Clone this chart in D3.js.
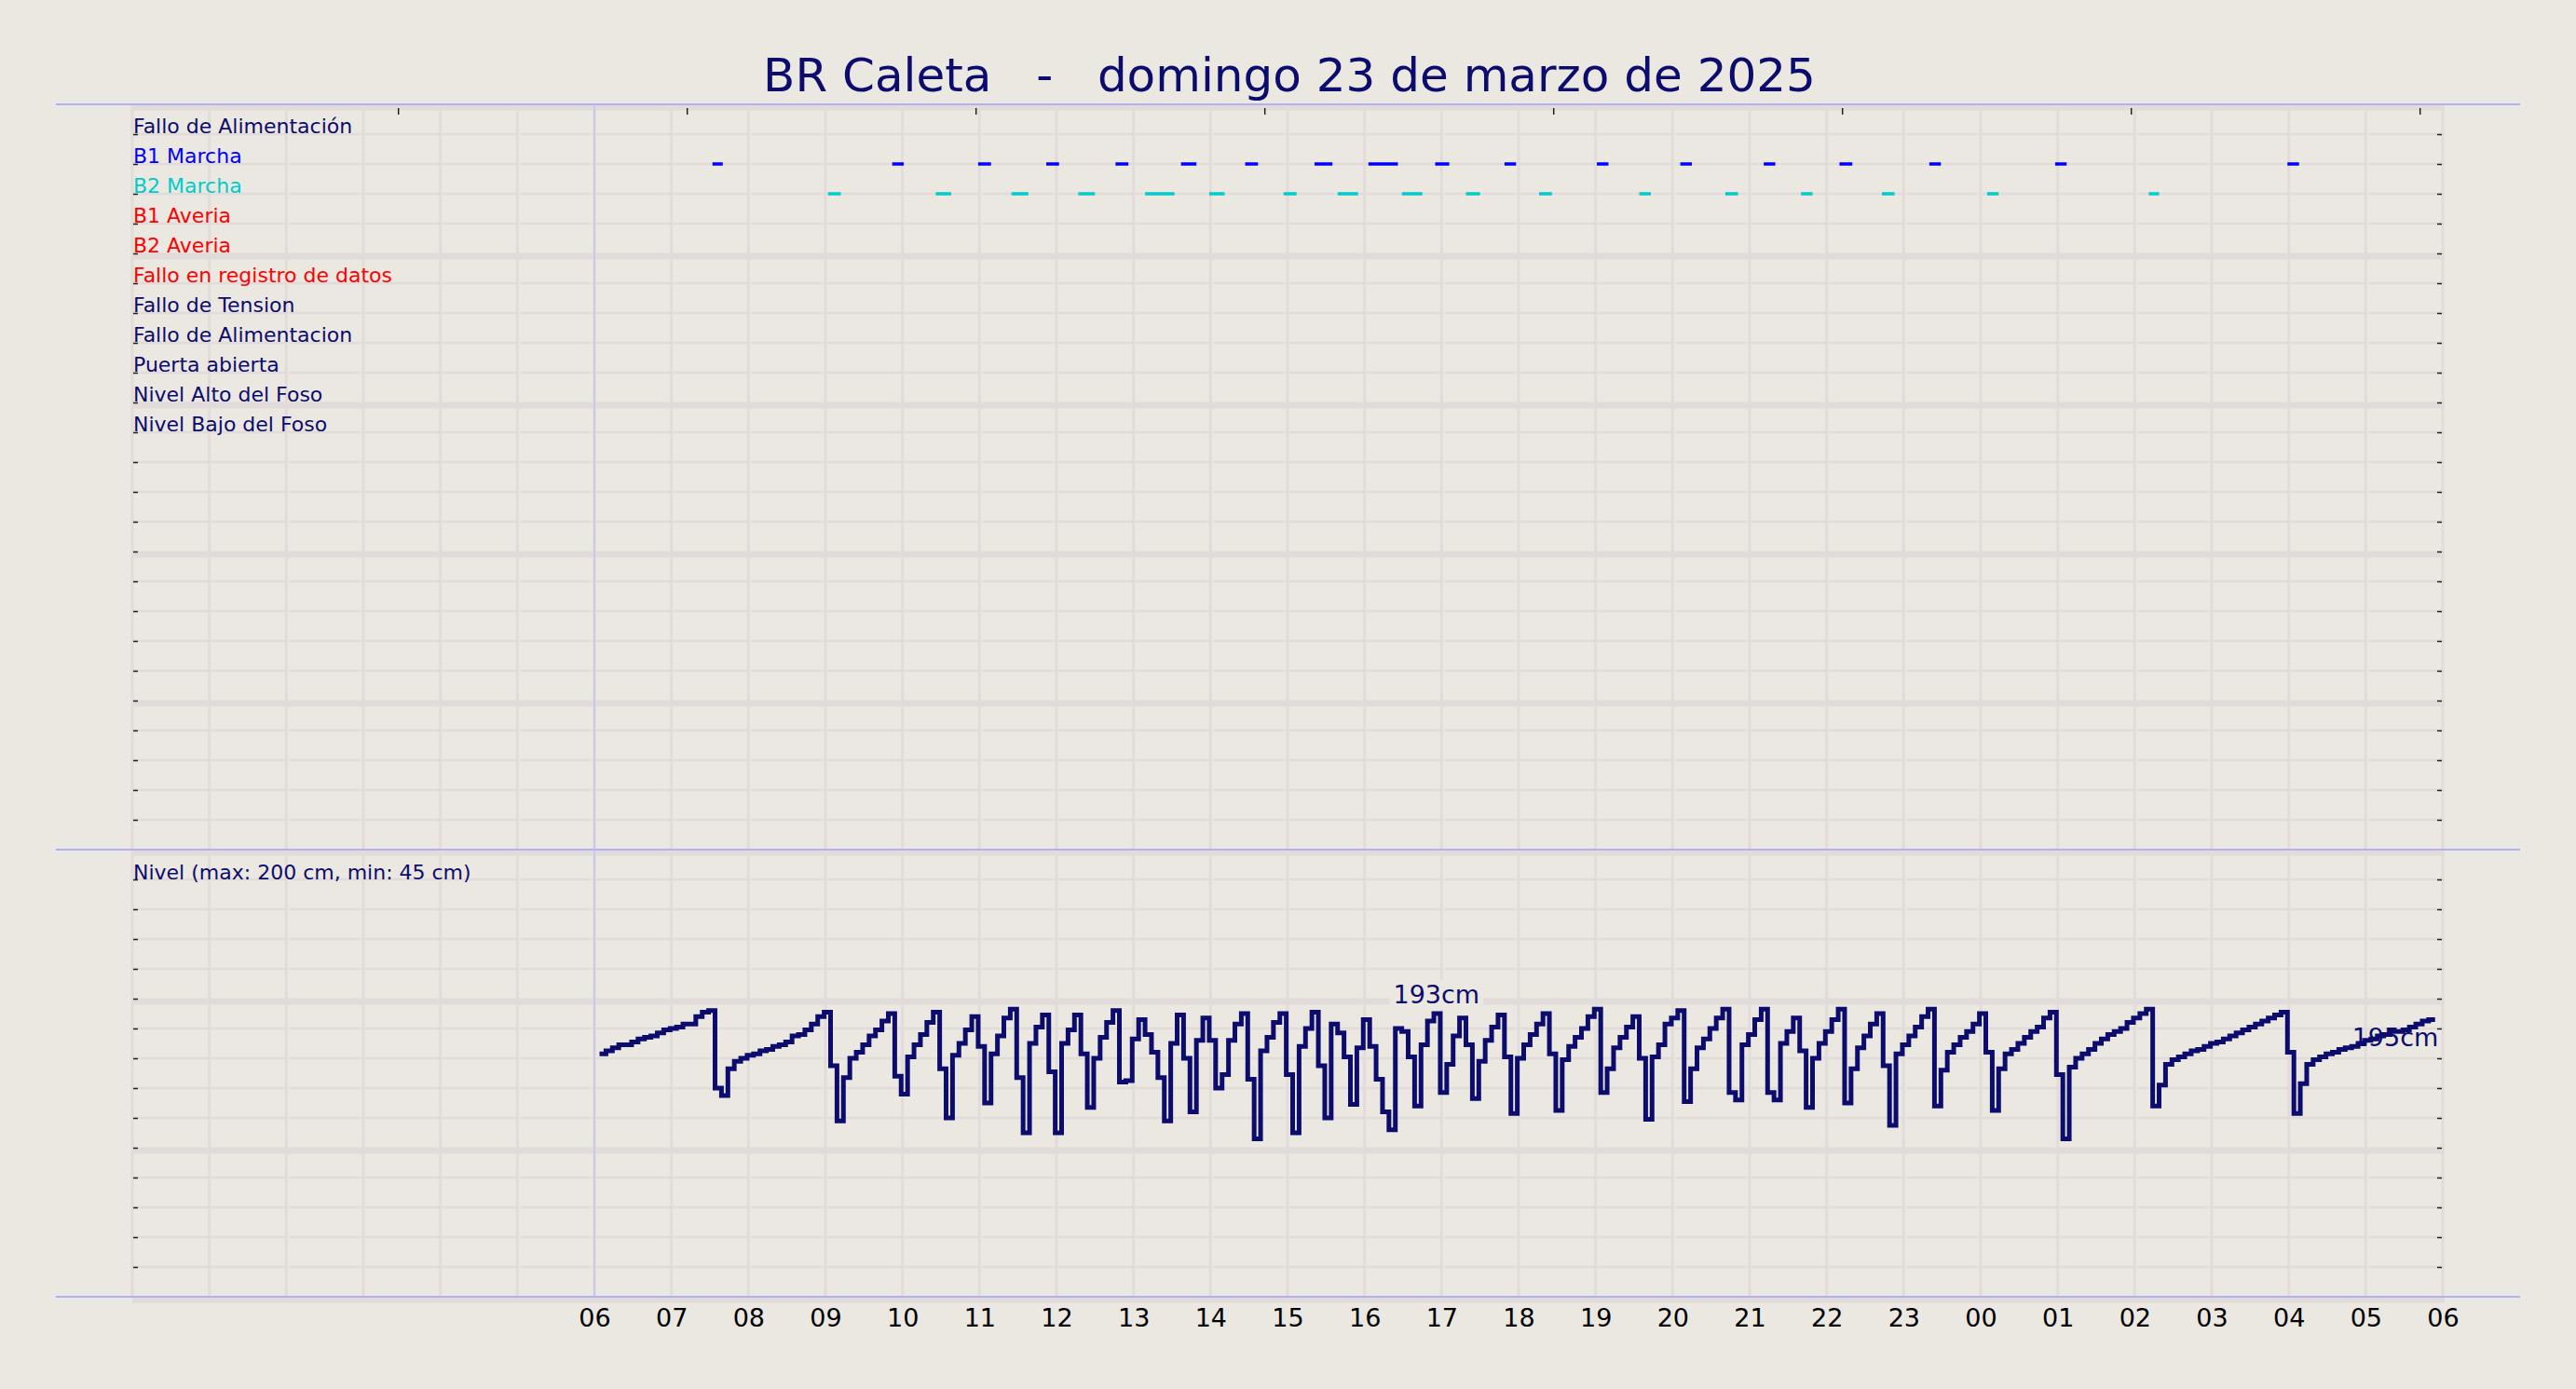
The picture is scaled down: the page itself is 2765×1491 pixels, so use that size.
<!DOCTYPE html>
<html>
<head>
<meta charset="utf-8">
<script src="https://cdn.jsdelivr.net/npm/d3@7"></script>
<style>
  body { margin: 0; background: #ebe7e1; }
  svg { display: block; font-family: "DejaVu Sans", sans-serif; }
</style>
</head>
<body>
<div id="chart"></div>
<script>

var title = "BR Caleta   -   domingo 23 de marzo de 2025";

var signalLabels = [
  "Fallo de Alimentación", "B1 Marcha", "B2 Marcha", "B1 Averia", "B2 Averia",
  "Fallo en registro de datos", "Fallo de Tension", "Fallo de Alimentacion",
  "Puerta abierta", "Nivel Alto del Foso", "Nivel Bajo del Foso"
];
var signalColors = [
  "#0c0c6e", "#0000ff", "#00cccc", "#ff0000", "#ff0000",
  "#ff0000", "#0c0c6e", "#0c0c6e", "#0c0c6e", "#0c0c6e", "#0c0c6e"
];

// pump running periods [start, end]
var b1Marcha = [
  ["23 07:32", "23 07:40"], ["23 09:52", "23 10:01"], ["23 10:59", "23 11:09"],
  ["23 11:52", "23 12:02"], ["23 12:46", "23 12:56"], ["23 13:37", "23 13:49"],
  ["23 14:27", "23 14:37"], ["23 15:21", "23 15:35"], ["23 16:03", "23 16:26"],
  ["23 16:55", "23 17:06"], ["23 17:49", "23 17:58"], ["23 19:01", "23 19:10"],
  ["23 20:06", "23 20:15"], ["23 21:11", "23 21:20"], ["23 22:10", "23 22:20"],
  ["23 23:20", "23 23:29"], ["24 00:58", "24 01:07"], ["24 03:59", "24 04:08"]
];
var b2Marcha = [
  ["23 09:02", "23 09:12"], ["23 10:26", "23 10:38"], ["23 11:25", "23 11:38"],
  ["23 12:17", "23 12:30"], ["23 13:09", "23 13:32"], ["23 13:59", "23 14:11"],
  ["23 14:57", "23 15:07"], ["23 15:39", "23 15:55"], ["23 16:29", "23 16:45"],
  ["23 17:19", "23 17:30"], ["23 18:16", "23 18:26"], ["23 19:34", "23 19:43"],
  ["23 20:41", "23 20:51"], ["23 21:40", "23 21:49"], ["23 22:43", "23 22:53"],
  ["24 00:05", "24 00:14"], ["24 02:11", "24 02:19"]
];

// level in cm, one reading every 5 minutes from levelStart
var levelStart = "23 06:04";
var levelStepMin = 5;
var levelCm = [
  163,165,167,169,169,171,173,174,175,177,
  179,180,181,183,183,188,191,192,140,135,
  153,158,160,162,163,165,166,168,169,171,
  175,176,179,183,188,191,155,118,147,160,
  164,169,175,179,185,190,148,136,161,169,
  176,184,191,153,120,162,170,179,188,168,
  130,163,175,187,193,147,110,170,181,189,
  151,110,170,179,189,163,127,160,174,184,
  192,144,145,173,186,176,164,147,118,170,
  189,160,124,172,187,172,140,149,172,183,
  190,146,106,165,174,184,190,149,110,168,
  180,191,155,120,183,177,161,129,167,186,
  168,146,124,112,180,178,161,128,169,185,
  190,137,156,175,187,169,133,158,172,181,
  189,161,123,160,169,176,183,190,163,125,
  159,168,174,180,188,193,137,153,167,174,
  181,188,160,119,161,169,183,187,192,131,
  153,167,173,180,187,193,137,132,169,176,
  186,193,137,132,170,178,187,165,127,160,
  170,178,186,193,130,153,167,175,183,190,
  155,115,163,169,175,181,188,193,128,152,
  164,169,174,178,183,190,164,125,153,163,
  166,170,174,178,181,187,191,149,106,154,
  160,163,166,170,173,176,178,180,184,187,
  190,193,128,142,156,159,161,163,165,166,
  168,170,171,173,175,177,179,181,183,185,
  187,189,191,164,123,143,156,159,161,163,
  164,166,167,168,170,172,173,175,176,178,
  178,179,181,183,185,186
];

var levelNote = "Nivel (max: 200 cm, min: 45 cm)";
var levelLabels = [
  { time: "23 16:56", cm: 203, text: "193cm", box: true },
  { time: "24 05:23", cm: 174, text: "195cm", box: false }
];

var xStart = "23 00:00", xEnd = "24 06:00";
var hourLabels = ["06","07","08","09","10","11","12","13","14","15","16","17","18",
                  "19","20","21","22","23","00","01","02","03","04","05","06"];
var topTicks = ["23 03:27", "23 07:12", "23 10:57", "23 14:42",
                "23 18:27", "23 22:12", "24 01:57", "24 05:42"];


var width = 2765, height = 1491;
var bg = "#ebe7e1", gridColor = "#e1dcda", navy = "#0c0c6e";
var parseTime = d3.timeParse("%d %H:%M");

var svg = d3.select("#chart").append("svg")
    .attr("width", width)
    .attr("height", height);

svg.append("rect")
    .attr("width", width)
    .attr("height", height)
    .attr("fill", bg);

// scales
var x = d3.scaleTime()
    .domain([parseTime(xStart), parseTime(xEnd)])
    .range([142, 2622]);

var yRow = d3.scaleLinear().domain([0, 25]).range([112, 912]);
var yLevel = d3.scaleLinear().domain([0, 300]).range([1392, 912]);

var x0 = x.range()[0], x1 = x.range()[1];
var yTop = yRow(0), yBottom = yLevel(0);

// grid
var gridHours = d3.timeHour.range(x.domain()[0], d3.timeMinute.offset(x.domain()[1], 1));

svg.append("g").selectAll("line")
    .data(gridHours)
    .join("line")
    .attr("x1", function(d) { return x(d); })
    .attr("x2", function(d) { return x(d); })
    .attr("y1", yTop)
    .attr("y2", yBottom)
    .attr("stroke", gridColor)
    .attr("stroke-width", 3);

var hLines = d3.range(0, 25).map(function(r) { return { y: yRow(r), major: r % 5 === 0 }; })
    .concat(d3.range(0, 301, 20).map(function(c) { return { y: yLevel(c), major: c % 100 === 0 }; }));

svg.append("g").selectAll("line")
    .data(hLines)
    .join("line")
    .attr("x1", x0)
    .attr("x2", x1 + 2)
    .attr("y1", function(d) { return d.y + (d.major ? 3 : 0); })
    .attr("y2", function(d) { return d.y + (d.major ? 3 : 0); })
    .attr("stroke", gridColor)
    .attr("stroke-width", function(d) { return d.major ? 7 : 2.5; });

// frame lines
svg.append("g").selectAll("line")
    .data([yTop, yRow(25), yBottom])
    .join("line")
    .attr("x1", 60)
    .attr("x2", 2705)
    .attr("y1", function(d) { return d; })
    .attr("y2", function(d) { return d; })
    .attr("stroke", "#b0b0f4")
    .attr("stroke-width", 2);

svg.append("line")
    .attr("x1", x(parseTime("23 06:00")))
    .attr("x2", x(parseTime("23 06:00")))
    .attr("y1", yTop)
    .attr("y2", yBottom)
    .attr("stroke", "#c2c2f6")
    .attr("stroke-width", 1.5);

// small ticks
function styleTicks(g) {
  g.select(".domain").remove();
  g.selectAll(".tick line").attr("stroke", "#222").attr("stroke-width", 1.5);
}

svg.append("g").attr("transform", "translate(" + (x0 + 1) + ",0)")
    .call(d3.axisRight(yRow).tickValues(d3.range(1, 25)).tickSize(5).tickFormat(""))
    .call(styleTicks);
svg.append("g").attr("transform", "translate(" + (x0 + 1) + ",0)")
    .call(d3.axisRight(yLevel).tickValues(d3.range(20, 300, 20)).tickSize(5).tickFormat(""))
    .call(styleTicks);
svg.append("g").attr("transform", "translate(" + (x1 - 1) + ",0)")
    .call(d3.axisLeft(yRow).tickValues(d3.range(1, 25)).tickSize(5).tickFormat(""))
    .call(styleTicks);
svg.append("g").attr("transform", "translate(" + (x1 - 1) + ",0)")
    .call(d3.axisLeft(yLevel).tickValues(d3.range(20, 300, 20)).tickSize(5).tickFormat(""))
    .call(styleTicks);

svg.append("g").attr("transform", "translate(0," + (yTop + 4) + ")")
    .call(d3.axisBottom(x).tickValues(topTicks.map(parseTime)).tickSize(7).tickFormat(""))
    .call(styleTicks);

// hour labels
var xTickTimes = d3.timeHour.range(parseTime("23 06:00"), d3.timeMinute.offset(parseTime("24 06:00"), 1));

var xAxis = svg.append("g")
    .attr("transform", "translate(0," + yBottom + ")")
    .call(d3.axisBottom(x)
        .tickValues(xTickTimes)
        .tickFormat(function(d, i) { return hourLabels[i]; })
        .tickSize(0)
        .tickPadding(13));
xAxis.select(".domain").remove();
xAxis.selectAll("text")
    .attr("font-family", "DejaVu Sans")
    .attr("font-size", 27)
    .attr("fill", "#000");

// signal labels
svg.append("g").selectAll("text")
    .data(signalLabels)
    .join("text")
    .attr("x", x0 + 1)
    .attr("y", function(d, i) { return yRow(i + 1) - 1; })
    .attr("font-size", 22)
    .attr("fill", function(d, i) { return signalColors[i]; })
    .text(function(d) { return d; });

// pump segments
function drawRuns(data, row, color) {
  svg.append("g").selectAll("line")
      .data(data)
      .join("line")
      .attr("x1", function(d) { return x(parseTime(d[0])); })
      .attr("x2", function(d) { return x(parseTime(d[1])); })
      .attr("y1", yRow(row))
      .attr("y2", yRow(row))
      .attr("stroke", color)
      .attr("stroke-width", 3.5);
}
drawRuns(b1Marcha, signalLabels.indexOf("B1 Marcha") + 1, "#0000ff");
drawRuns(b2Marcha, signalLabels.indexOf("B2 Marcha") + 1, "#00cccc");

// level
svg.append("text")
    .attr("x", x0 + 1)
    .attr("y", yLevel(280))
    .attr("font-size", 22)
    .attr("fill", navy)
    .text(levelNote);

var t0 = parseTime(levelStart);
var levelPoints = levelCm.map(function(v, i) {
  return { t: d3.timeMinute.offset(t0, i * levelStepMin), v: v };
});
levelPoints.push({
  t: d3.timeMinute.offset(t0, levelCm.length * levelStepMin),
  v: levelCm[levelCm.length - 1]
});

var levelLine = d3.line()
    .x(function(d) { return x(d.t); })
    .y(function(d) { return yLevel(d.v); })
    .curve(d3.curveStepAfter);

svg.append("path")
    .attr("d", levelLine(levelPoints))
    .attr("fill", "none")
    .attr("stroke", navy)
    .attr("stroke-width", 5);

levelLabels.forEach(function(a) {
  var g = svg.append("g");
  var t = g.append("text")
      .attr("x", x(parseTime(a.time)))
      .attr("y", yLevel(a.cm))
      .attr("text-anchor", "middle")
      .attr("dominant-baseline", "central")
      .attr("font-size", 27)
      .attr("fill", navy)
      .text(a.text);
  if (a.box) {
    var b = t.node().getBBox();
    g.insert("rect", "text")
        .attr("x", b.x - 4)
        .attr("y", b.y)
        .attr("width", b.width + 8)
        .attr("height", b.height)
        .attr("fill", bg);
  }
});

// title
svg.append("text")
    .attr("x", 1384)
    .attr("y", 98)
    .attr("text-anchor", "middle")
    .attr("font-size", 50)
    .attr("fill", navy)
    .style("white-space", "pre")
    .text(title);

</script>
</body>
</html>
